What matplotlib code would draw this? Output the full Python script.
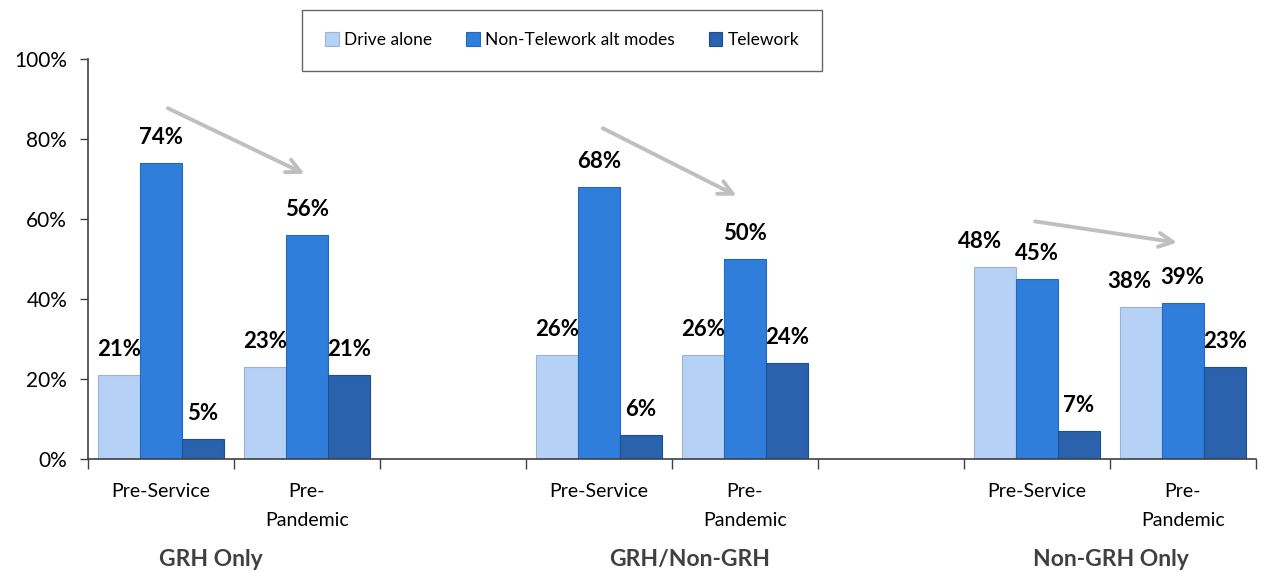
import matplotlib.pyplot as plt
import matplotlib.transforms as mtransforms
import numpy as np

plt.rcParams['font.family'] = ['Lato', 'DejaVu Sans']

# categories along the x axis (empty slots separate the three groups)
periods = ['Pre-Service', 'Pre-\nPandemic', '', 'Pre-Service', 'Pre-\nPandemic', '',
           'Pre-Service', 'Pre-\nPandemic']
groups = ['GRH Only', 'GRH/Non-GRH', 'Non-GRH Only']
group_pos = [0.34, 3.62, 6.51]

series = ['Drive alone', 'Non-Telework alt modes', 'Telework']
drive_alone = [21, 23, None, 26, 26, None, 48, 38]
alt_modes = [74, 56, None, 68, 50, None, 45, 39]
telework = [5, 21, None, 6, 24, None, 7, 23]

colors = ['#B5D1F5', '#2F7EDB', '#2A62AE']
edges = ['#9DB3CF', '#2569B8', '#1F4E8C']

# trend arrows: (x0, y0, x1, y1) in data units
arrows = [(0.03, 88, 1.0, 71), (3.01, 83, 3.96, 65.5), (5.97, 59.5, 6.98, 54)]

fig = plt.figure(figsize=(12.61, 5.73), dpi=100)
ax = fig.add_axes([0.0698, 0.199, 0.926, 0.698])

x = np.arange(len(periods))
w = 0.288
for k, (vals, c, ec, name) in enumerate(zip([drive_alone, alt_modes, telework], colors, edges, series)):
    xs = [xi + (k - 1) * w for xi, v in zip(x, vals) if v is not None]
    vs = [v for v in vals if v is not None]
    ax.bar(xs, vs, width=w, color=c, edgecolor=ec, linewidth=0.8, label=name)
    for xi, v in zip(xs, vs):
        # nudge the crowded labels in the last group to the left
        dx = {48: -0.1, 38: -0.08}.get(v, 0) if k == 0 else 0
        ax.annotate(f'{v}%', (xi + dx, v), xytext=(0, 11), textcoords='offset points',
                    ha='center', va='bottom', fontsize=16, fontweight='bold', color='black')

for x0, y0, x1, y1 in arrows:
    ax.annotate('', xy=(x1, y1), xytext=(x0, y0),
                arrowprops=dict(arrowstyle='->,head_length=1.0,head_width=0.5',
                                color='#BFBFBF', lw=2.8))

ax.set_xlim(-0.5, len(periods) - 0.5)
ax.set_ylim(0, 100)
ax.set_yticks(range(0, 101, 20))
ax.set_yticklabels([f'{t}%' for t in range(0, 101, 20)], fontsize=15)

ax.set_xticks(np.arange(-0.5, len(periods), 1.0))
ax.set_xticklabels([])
ax.set_xticks(x, minor=True)
ax.set_xticklabels(periods, minor=True, fontsize=14, linespacing=1.9)
ax.tick_params(axis='x', which='major', length=7, width=1, color='#404040', direction='out')
ax.tick_params(axis='x', which='minor', length=0, pad=17)
ax.tick_params(axis='y', length=6, width=1, color='#404040', pad=9)

for s in ['top', 'right']:
    ax.spines[s].set_visible(False)
for s in ['left', 'bottom']:
    ax.spines[s].set_color('#404040')
    ax.spines[s].set_linewidth(1.2)

trans = mtransforms.blended_transform_factory(ax.transData, fig.transFigure)
for g, gx in zip(groups, group_pos):
    ax.text(gx, 0.023, g, transform=trans, ha='center', va='center',
            fontsize=16.5, fontweight='bold', color='#404040')

leg = fig.legend(loc='center', bbox_to_anchor=(0.4457, 0.93), ncol=3, fontsize=12.5,
                 frameon=True, fancybox=False, edgecolor='#404040', handlelength=0.8,
                 handleheight=0.8, handletextpad=0.3, columnspacing=1.95,
                 borderpad=1.3)
leg.get_frame().set_linewidth(1.0)

fig.savefig('out.png', dpi=100)
